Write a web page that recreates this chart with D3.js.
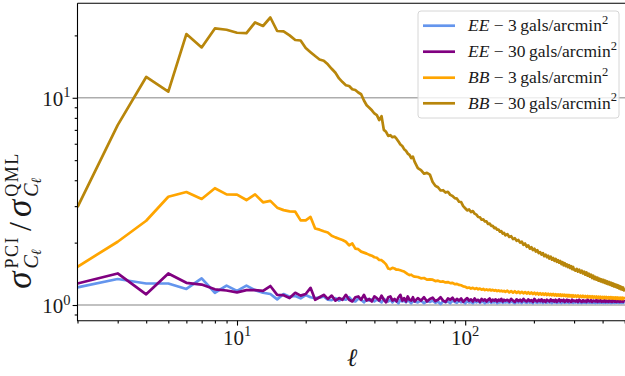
<!DOCTYPE html>
<html><head><meta charset="utf-8">
<script src="https://cdn.jsdelivr.net/npm/d3@7"></script>
<style>
html,body{margin:0;padding:0;background:#fff;}
svg{display:block;}
</style>
</head><body>
<svg id="chart" width="625" height="376"></svg>
<script>
// Multipoles ℓ at which the error ratios are plotted
const ell = [
  2,3,4,5,6,7,8,9,10,11,12,13,14,15,16,17,18,19,20,21,22,23,24,25,26,27,28,29,30,31,
  32,33,34,35,36,37,38,39,40,41,42,43,44,45,46,47,48,49,50,51,52,53,54,55,56,57,58,59,60,
  62,64,66,68,70,72,74,76,78,80,82,84,86,88,90,92,94,96,98,100,102,104,106,108,110,112,114,116,118,120,
  122,124,126,128,130,132,134,136,138,140,142,144,146,148,150,
  153,156,159,162,165,168,171,174,177,180,183,186,189,192,195,198,201,204,207,210,213,216,219,222,225,
  228,231,234,237,240,243,246,249,252,255,258,261,264,267,270,273,276,279,282,285,288,291,294,297,300,
  304,308,312,316,320,324,328,332,336,340,344,348,352,356,360,364,368,372,376,380,384,388,392,396,400,
  404,408,412,416,420,424,428,432,436,440,444,448,452,456,460,464,468,472,476,480,484,488,492,496,500
];

// σ^PCI / σ^QML, EE spectrum, 3 gals/arcmin²
const ee3 = [
  1.217,1.335,1.27,1.27,1.195,1.345,1.146,1.24,1.17,1.24,
  1.18,1.146,1.13,1.065,1.13,1.097,1.105,1.077,1.117,1.09,
  1.08,1.085,1.10,1.06,1.055,1.08,1.05,1.07,1.06,1.09,
  1.05,1.04,1.075,1.06,1.03,1.07,1.05,1.065,1.04,1.06,
  1.05,1.03,1.07,1.05,1.04,1.06,1.03,1.055,1.045,1.02,
  1.06,1.04,1.05,1.03,1.055,1.04,1.02,1.05,1.04,
  1.03,1.05,1.02,1.045,1.035,1.05,1.025,1.04,1.01,1.045,
  1.03,1.04,1.02,1.05,1.035,1.025,1.045,1.03,1.04,1.02,
  1.045,1.03,1.035,1.02,1.04,1.03,1.045,1.025,1.035,1.04,
  1.02,1.035,1.03,1.045,1.025,1.035,1.03,1.04,1.02,1.035,
  1.03,1.04,1.025,1.035,1.03,
  1.035,1.025,1.04,1.03,1.02,1.038,1.028,1.035,1.022,1.04,
  1.03,1.025,1.038,1.028,1.033,1.02,1.04,1.03,1.025,1.036,
  1.028,1.034,1.022,1.038,1.03,1.026,1.036,1.028,1.032,1.022,
  1.037,1.029,1.033,1.024,1.035,1.028,1.031,1.022,1.036,1.029,
  1.025,1.034,1.028,1.032,1.023,1.035,1.028,1.03,1.024,1.033,
  1.028,1.034,1.024,1.032,1.027,1.022,1.033,1.026,1.03,1.023,
  1.034,1.027,1.025,1.032,1.024,1.03,1.026,1.022,1.033,1.025,
  1.03,1.024,1.032,1.026,1.028,1.023,1.031,1.025,1.029,1.024,
  1.032,1.026,1.028,1.022,1.03,1.025,1.029,1.023,1.031,1.026,
  1.028,1.024,1.03,1.025,1.027,1.023,1.03,1.025,1.028,1.026
];

// EE spectrum, 30 gals/arcmin²
const ee30 = [
  1.27,1.42,1.126,1.42,1.28,1.255,1.19,1.175,1.15,1.18,
  1.18,1.17,1.235,1.12,1.115,1.08,1.145,1.11,1.13,1.21,
  1.06,1.09,1.12,1.07,1.11,1.05,1.08,1.06,1.12,1.06,
  1.04,1.09,1.10,1.06,1.12,1.05,1.07,1.04,1.10,1.08,
  1.05,1.11,1.06,1.03,1.09,1.10,1.05,1.07,1.04,1.09,
  1.12,1.05,1.08,1.04,1.10,1.06,1.05,1.09,1.04,
  1.08,1.05,1.09,1.04,1.07,1.085,1.045,1.06,1.09,1.05,
  1.035,1.075,1.06,1.085,1.045,1.07,1.05,1.075,1.035,1.06,
  1.08,1.05,1.065,1.04,1.075,1.05,1.06,1.035,1.07,1.05,
  1.065,1.04,1.06,1.075,1.04,1.06,1.05,1.065,1.04,1.06,
  1.05,1.07,1.04,1.06,1.05,
  1.06,1.04,1.07,1.05,1.035,1.065,1.045,1.06,1.04,1.07,
  1.05,1.04,1.065,1.045,1.055,1.035,1.07,1.05,1.04,1.06,
  1.045,1.065,1.04,1.055,1.035,1.06,1.05,1.04,1.065,1.045,
  1.055,1.04,1.06,1.035,1.05,1.065,1.04,1.055,1.045,1.06,
  1.035,1.05,1.06,1.04,1.055,1.045,1.035,1.06,1.045,1.05,
  1.04,1.055,1.035,1.06,1.045,1.035,1.055,1.04,1.05,1.035,
  1.06,1.045,1.04,1.055,1.035,1.05,1.045,1.04,1.058,1.035,
  1.05,1.042,1.055,1.036,1.048,1.04,1.056,1.035,1.05,1.042,
  1.036,1.054,1.04,1.048,1.035,1.055,1.042,1.038,1.052,1.036,
  1.048,1.04,1.055,1.036,1.046,1.04,1.052,1.036,1.045,1.04
];

// BB spectrum, 3 gals/arcmin²
const bb3 = [
  1.53,2.02,2.55,3.33,3.51,3.25,3.66,3.42,3.41,3.21,
  3.42,3.13,3.18,2.95,2.87,2.83,2.82,2.56,2.56,2.66,
  2.34,2.31,2.27,2.24,2.16,2.12,2.09,2.06,2.02,1.94,
  1.98,1.87,1.86,1.81,1.79,1.77,1.745,1.73,1.70,1.69,
  1.65,1.645,1.61,1.57,1.50,1.49,1.51,1.50,1.48,1.48,
  1.47,1.46,1.45,1.43,1.41,1.395,1.40,1.38,1.37,
  1.365,1.345,1.35,1.325,1.33,1.325,1.305,1.31,1.295,1.30,
  1.285,1.29,1.275,1.28,1.26,1.265,1.25,1.245,1.23,1.225,
  1.21,1.215,1.20,1.21,1.195,1.205,1.19,1.20,1.185,1.195,
  1.18,1.19,1.178,1.188,1.175,1.184,1.172,1.18,1.168,1.177,
  1.165,1.173,1.162,1.17,1.158,
  1.172,1.150,1.168,1.147,1.165,1.144,1.161,1.141,1.158,1.138,
  1.155,1.135,1.152,1.132,1.149,1.129,1.146,1.126,1.143,1.124,
  1.141,1.122,1.138,1.120,1.136,1.118,1.134,1.116,1.132,1.114,
  1.130,1.112,1.128,1.110,1.126,1.108,1.125,1.107,1.123,1.105,
  1.121,1.103,1.119,1.101,1.117,1.100,1.115,1.098,1.114,1.097,
  1.113,1.096,1.111,1.094,1.109,1.092,1.108,1.091,1.106,1.089,
  1.105,1.088,1.103,1.086,1.102,1.085,1.100,1.084,1.099,1.082,
  1.098,1.081,1.096,1.080,1.095,1.079,1.094,1.078,1.093,1.077,
  1.092,1.076,1.091,1.075,1.090,1.074,1.089,1.073,1.088,1.072,
  1.087,1.071,1.086,1.070,1.085,1.069,1.084,1.068,1.083,1.067
];

// BB spectrum, 30 gals/arcmin²
const bb30 = [
  2.97,7.38,12.6,10.7,20.3,17.5,21.6,21.3,20.6,20.5,
  23.1,22.2,24.4,21.0,20.9,20.0,19.0,18.9,17.4,16.6,
  15.9,15.3,15.1,14.5,13.8,13.2,12.4,11.9,11.5,11.4,
  11.0,10.9,10.6,10.4,9.7,9.2,8.95,8.7,8.4,8.25,
  7.8,8.15,7.0,6.85,6.55,6.6,6.45,6.5,6.35,6.15,
  5.95,5.85,5.65,5.55,5.38,5.3,5.12,5.2,4.92,
  4.58,4.48,4.30,4.34,4.26,3.92,3.76,3.70,3.57,3.58,
  3.49,3.52,3.40,3.36,3.28,3.26,3.15,3.14,3.00,2.93,
  2.86,2.89,2.81,2.84,2.76,2.73,2.66,2.65,2.58,2.59,
  2.53,2.53,2.46,2.47,2.41,2.41,2.35,2.36,2.31,2.31,
  2.26,2.27,2.21,2.23,2.17,
  2.20,2.13,2.15,2.08,2.10,2.04,2.06,2.00,2.02,1.95,
  1.98,1.91,1.94,1.87,1.90,1.84,1.87,1.81,1.84,1.78,
  1.80,1.75,1.78,1.72,1.75,1.70,1.73,1.675,1.71,1.655,
  1.685,1.635,1.67,1.615,1.645,1.60,1.63,1.575,1.61,1.555,
  1.59,1.54,1.57,1.525,1.555,1.51,1.54,1.49,1.525,1.48,
  1.465,1.495,1.45,1.48,1.435,1.465,1.42,1.45,1.40,1.435,
  1.385,1.415,1.37,1.40,1.35,1.385,1.335,1.365,1.325,1.355,
  1.31,1.34,1.30,1.33,1.29,1.32,1.28,1.31,1.27,1.30,
  1.26,1.29,1.25,1.28,1.24,1.27,1.23,1.26,1.222,1.252,
  1.212,1.242,1.202,1.232,1.193,1.222,1.185,1.214,1.177,1.205
];

const seriesValues = [ee3, ee30, bb3, bb30];
const seriesSpectra = ["EE", "EE", "BB", "BB"];
const seriesDensities = ["3", "30", "3", "30"];
const seriesColors = ["#6495ED", "#800080", "#FFA500", "#B8860B"];

const xMajorTicks = [10, 100];
const yMajorTicks = [1, 10];
const xDomain = [2, 500];
const yDomain = [0.84, 28.6];

const W = 625, H = 376;
const plot = {left: 77.5, right: 624.7, top: 3.2, bottom: 320.7};
const SERIF = '"Liberation Serif"';

const svg = d3.select("#chart");
const x = d3.scaleLog().domain(xDomain).range([plot.left, plot.right]);
const y = d3.scaleLog().domain(yDomain).range([plot.bottom, plot.top]);

// every label uses the serif face
function label(parent, size) {
  return parent.append("text").style("font-family", SERIF).attr("font-size", size).attr("fill", "#1a1a1a");
}

svg.append("defs").append("clipPath").attr("id", "plotclip")
  .append("rect").attr("x", plot.left).attr("y", plot.top)
  .attr("width", W - plot.left).attr("height", plot.bottom - plot.top);

// horizontal grid at the decades
svg.append("g").selectAll("line").data(yMajorTicks).join("line")
  .attr("x1", plot.left).attr("x2", W)
  .attr("y1", d => y(d)).attr("y2", d => y(d))
  .attr("stroke", "#adadad").attr("stroke-width", 1.3);

// data curves
const line = d3.line().x((d, i) => x(ell[i])).y(d => y(d));
const curves = svg.append("g").attr("clip-path", "url(#plotclip)");
seriesValues.forEach((vals, k) => {
  curves.append("path").attr("d", line(vals))
    .attr("fill", "none").attr("stroke", seriesColors[k])
    .attr("stroke-width", 2.7).attr("stroke-linejoin", "round");
});

// ticks
const xMinor = x.ticks().filter(v => !xMajorTicks.includes(v));
const yMinor = y.ticks().filter(v => !yMajorTicks.includes(v));
const axisStyle = g => {
  g.select(".domain").remove();
  g.selectAll("line").attr("stroke", "#000").attr("stroke-width", 1.1);
  g.selectAll("text").remove();
};
svg.append("g").attr("transform", `translate(0,${plot.bottom})`)
  .call(d3.axisBottom(x).tickValues(xMinor).tickSize(2.8).tickFormat("")).call(axisStyle);
svg.append("g").attr("transform", `translate(0,${plot.bottom})`)
  .call(d3.axisBottom(x).tickValues(xMajorTicks).tickSize(4.9).tickFormat("")).call(axisStyle);
svg.append("g").attr("transform", `translate(${plot.left},0)`)
  .call(d3.axisLeft(y).tickValues(yMinor).tickSize(2.8).tickFormat("")).call(axisStyle);
svg.append("g").attr("transform", `translate(${plot.left},0)`)
  .call(d3.axisLeft(y).tickValues(yMajorTicks).tickSize(4.9).tickFormat("")).call(axisStyle);

// spines
svg.append("path")
  .attr("d", `M${plot.left},${plot.top}H${W}M${plot.left},${plot.top}V${plot.bottom}H${W}`)
  .attr("fill", "none").attr("stroke", "#000").attr("stroke-width", 1.1);

// power-of-ten tick labels
function powerLabel(sel, v) {
  sel.append("tspan").text("10");
  sel.append("tspan").attr("font-size", 14.5).attr("dy", -8.5).text(String(Math.round(Math.log10(v))));
}
xMajorTicks.forEach(v => {
  label(svg, 21).attr("x", x(v)).attr("y", 344.5).attr("text-anchor", "middle").call(powerLabel, v);
});
yMajorTicks.forEach(v => {
  label(svg, 21).attr("x", 70.5).attr("y", y(v) + 8).attr("text-anchor", "end").call(powerLabel, v);
});

// x label
label(svg, 25).attr("x", 352).attr("y", 366).attr("text-anchor", "middle")
  .attr("font-style", "italic").text("ℓ");

// y label: σ^PCI_{Cℓ} / σ^QML_{Cℓ}
const ylab = svg.append("g");
const inner = ylab.append("g");
let cursor = 0;
function sigmaTerm(sup) {
  const s = label(inner, 35).attr("x", cursor).attr("y", 0).attr("font-style", "italic").text("σ");
  cursor += s.node().getComputedTextLength() + 3;
  const a = label(inner, 18).attr("x", cursor).attr("y", -13).attr("letter-spacing", 1.5).text(sup);
  const b = label(inner, 20).attr("x", cursor).attr("y", 7).attr("font-style", "italic");
  b.append("tspan").text("C");
  b.append("tspan").attr("font-size", 14).attr("dy", 3).text("ℓ");
  cursor += Math.max(a.node().getComputedTextLength(), b.node().getComputedTextLength()) + 5;
}
sigmaTerm("PCI");
const slash = label(inner, 32).attr("x", cursor).attr("y", 0).text("/");
cursor += slash.node().getComputedTextLength() + 5;
sigmaTerm("QML");
ylab.attr("transform", `translate(31,${218 + cursor / 2}) rotate(-90)`);

// legend
const leg = svg.append("g").attr("transform", "translate(418,11)");
leg.append("rect").attr("width", 201).attr("height", 107).attr("rx", 3)
  .attr("fill", "#fff").attr("fill-opacity", 0.8)
  .attr("stroke", "#d6d6d6").attr("stroke-width", 1);
const rowY = [14.7, 40.7, 66.7, 92.3];
seriesColors.forEach((c, k) => {
  const r = leg.append("g").attr("transform", `translate(0,${rowY[k]})`);
  r.append("line").attr("x1", 5).attr("x2", 37).attr("stroke", c).attr("stroke-width", 2.7);
  const t = label(r, 17.5).attr("x", 50).attr("y", 5.5);
  t.append("tspan").attr("font-style", "italic").text(seriesSpectra[k]);
  t.append("tspan").text(" − " + seriesDensities[k] + "\u2009gals/arcmin");
  t.append("tspan").attr("font-size", 12.5).attr("dy", -7.5).text("2");
});
</script>
</body></html>
